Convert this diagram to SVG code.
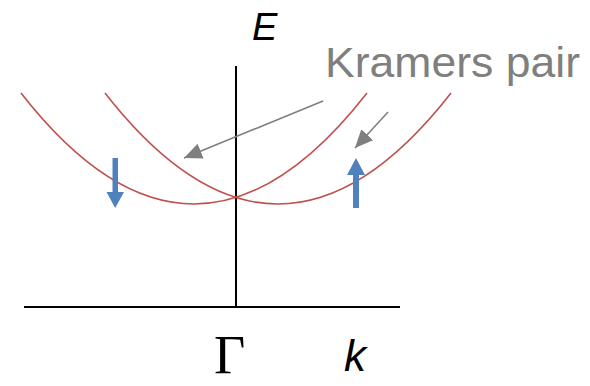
<svg xmlns="http://www.w3.org/2000/svg" width="590" height="386" viewBox="0 0 590 386">
<style>
.axis{stroke:#000;stroke-width:2;fill:none}
.band{stroke:#c0504d;stroke-width:1.6;fill:none}
.ptr{stroke:#7f7f7f;stroke-width:1.6;fill:none}
.spin{fill:#4f81bd}
.lab{font-family:"Liberation Sans",Arial,sans-serif}
</style>
<defs>
<marker id="ah" markerUnits="userSpaceOnUse" markerWidth="20" markerHeight="16" viewBox="0 0 20 16" refX="18" refY="8" orient="auto">
<path d="M0,0 L18,8 L0,16 Z" fill="#7f7f7f"/>
</marker>
</defs>
<rect width="590" height="386" fill="#fff"/>
<g id="axes">
<line class="axis" x1="236" y1="66" x2="236" y2="308"/>
<line class="axis" x1="24" y1="307" x2="400" y2="307"/>
</g>
<g id="band-left">
<path class="band" d="M21,93 Q194,315 367,93"/>
</g>
<g id="band-right">
<path class="band" d="M105,93 Q278,315 451,93"/>
</g>
<g id="spin-down">
<path class="spin" d="M112.5,158 H118 V192 H124 L115.2,208 L106.5,192 H112.5 Z"/>
</g>
<g id="spin-up">
<path class="spin" d="M353,208 H359 V175 H365 L356,158 L347,175 H353 Z"/>
</g>
<g id="labels">
<text class="lab" x="252" y="40" font-size="38" font-style="italic" fill="#000">E</text>
<text class="lab" x="325" y="77" font-size="42" fill="#7f7f7f" textLength="255" lengthAdjust="spacingAndGlyphs">Kramers pair</text>
<text x="214" y="373" font-family="'Liberation Serif','Times New Roman',serif" font-size="54" fill="#000">Γ</text>
<text class="lab" x="344" y="371" font-size="44" font-style="italic" fill="#000">k</text>
</g>
<g id="connectors">
<line class="ptr" x1="323" y1="101" x2="184" y2="158" marker-end="url(#ah)"/>
<line class="ptr" x1="388" y1="112" x2="355" y2="148" marker-end="url(#ah)"/>
</g>
</svg>
